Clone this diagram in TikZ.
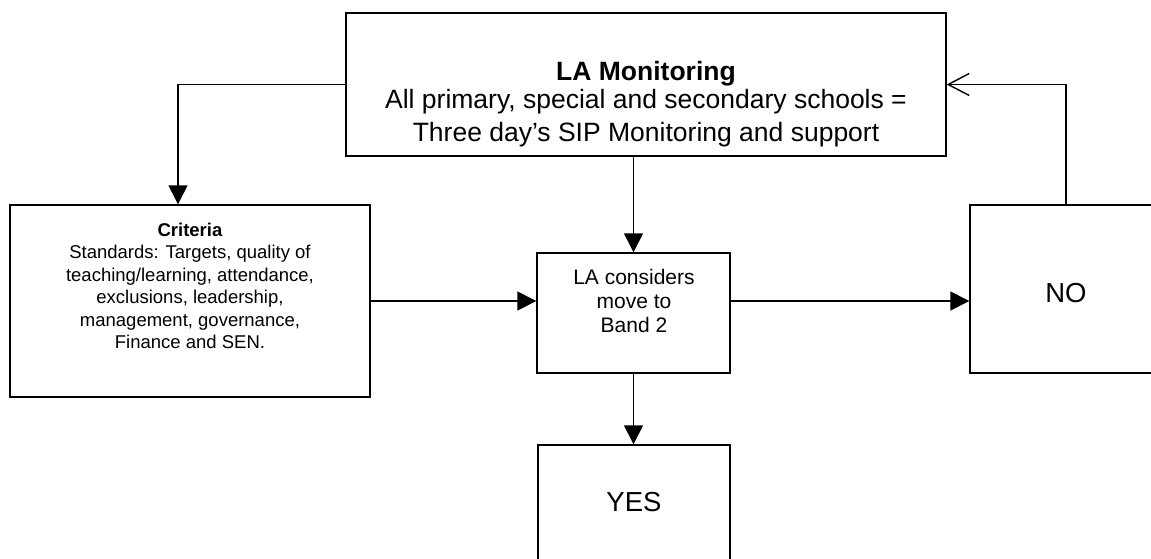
\documentclass[tikz,border=0pt]{standalone}
\usepackage{fontspec}
\setmainfont{Liberation Sans}
\usetikzlibrary{arrows.meta}
\begin{document}
\begin{tikzpicture}[x=1pt,y=-1pt,
  box/.style={draw, line width=1.4pt, rectangle, inner sep=0pt},
  txt/.style={inner sep=0pt, align=center, anchor=north},
  conn/.style={line width=1.4pt},
  solidhead/.style={-{Triangle[length=19pt,width=19pt]}},
  openhead/.style={-{Straight Barb[length=21pt,width=22pt,line width=1.4pt]}}]
  \useasboundingbox (0,0) rectangle (1151,559);
  \clip (0,0) rectangle (1151,559);

  % boxes
  \node[box, minimum width=600pt, minimum height=143pt] (top)  at (646,84.5)  {};
  \node[box, minimum width=360pt, minimum height=192pt] (crit) at (190,301)   {};
  \node[box, minimum width=193pt, minimum height=120pt] (la)   at (633.5,313) {};
  \node[box, minimum width=192pt, minimum height=120pt] (yes)  at (634,505)   {};
  \node[box, minimum width=192pt, minimum height=168pt] (no)   at (1066,289)  {};

  % texts
  \node[txt, font=\fontsize{26.5}{28.3}\selectfont] (toptxt) at (646,61)
    {\textbf{LA Monitoring}\\All primary, special and secondary schools =\\[4pt]Three day’s SIP Monitoring and support};
  \node[txt, font=\fontsize{18.5}{22.4}\selectfont] (crittxt) at (190,222.8)
    {\textbf{Criteria}\\Standards: Targets, quality of\\teaching/learning, attendance,\\exclusions, leadership,\\management, governance,\\Finance and SEN.};
  \node[txt, font=\fontsize{21}{24}\selectfont] (latxt) at (634,269.5)
    {LA considers\\move to\\Band 2};
  \node[inner sep=0pt, font=\fontsize{27.5}{30}\selectfont] (yestxt) at (634,501.7) {YES};
  \node[inner sep=0pt, font=\fontsize{27.5}{30}\selectfont] (notxt) at (1066,292.7) {NO};

  % connectors
  \coordinate (leftturn) at (178,0);
  \draw[conn, solidhead] (top.west) -- (top.west -| leftturn) -- (leftturn |- crit.north);
  \draw[conn, solidhead] (la.north |- top.south) -- (la.north);
  \draw[conn, solidhead] (crit.east) -- (crit.east -| la.west);
  \draw[conn, solidhead] (crit.east -| la.east) -- (crit.east -| no.west);
  \draw[conn, solidhead] (la.south) -- (la.south |- yes.north);
  \draw[conn, openhead] (no.north) |- (top.east);
\end{tikzpicture}
\end{document}
